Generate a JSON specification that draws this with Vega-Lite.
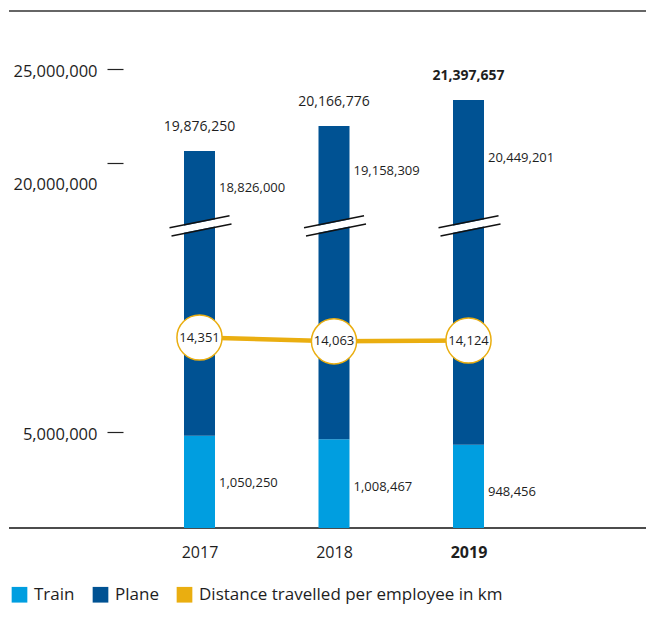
{
  "$schema": "https://vega.github.io/schema/vega-lite/v6.json",
  "width": 637,
  "height": 517,
  "autosize": {"type": "none"},
  "padding": {"left": 9, "top": 11, "right": 0, "bottom": 103},
  "config": {
    "view": {"stroke": null},
    "font": "Open Sans",
    "text": {"font": "Open Sans", "color": "#1e1e1e"},
    "axis": {"labelFont": "Open Sans", "labelColor": "#1e1e1e", "grid": false, "title": null},
    "scale": {"pointPadding": 0}
  },
  "datasets": {
    "segments": [
      {"year": "2017", "mode": "Train", "km": 1050250},
      {"year": "2017", "mode": "Plane", "km": 18826000},
      {"year": "2018", "mode": "Train", "km": 1008467},
      {"year": "2018", "mode": "Plane", "km": 19158309},
      {"year": "2019", "mode": "Train", "km": 948456},
      {"year": "2019", "mode": "Plane", "km": 20449201}
    ],
    "years": [
      {"year": "2017", "train": 1050250, "plane": 18826000, "total": 19876250, "perEmployee": 14351},
      {"year": "2018", "train": 1008467, "plane": 19158309, "total": 20166776, "perEmployee": 14063},
      {"year": "2019", "train": 948456, "plane": 20449201, "total": 21397657, "perEmployee": 14124}
    ]
  },
  "resolve": {"scale": {"y": "independent"}},
  "layer": [
    {
      "layer": [
        {
          "data": {"values": [{"edge": "top"}]},
          "mark": {"type": "rule", "color": "#333333", "strokeWidth": 1.5},
          "encoding": {
            "y": {
              "datum": 28080000,
              "type": "quantitative",
              "scale": {"type": "linear", "domain": [0, 5000000, 18826000, 19158309, 20000000, 20449201, 25000000, 28080000], "range": [517, 421, 176.7, 160, 152, 146.7, 58, 0], "nice": false, "zero": false},
              "axis": {
                "orient": "left",
                "offset": -114,
                "domain": false,
                "grid": false,
                "title": null,
                "values": [5000000, 20000000, 25000000],
                "labelExpr": "format(datum.value, ',')",
                "tickSize": 16,
                "tickColor": "#222222",
                "tickWidth": 1.2,
                "labelPadding": 10,
                "labelFontSize": 16.5,
                "labelBaseline": "middle",
                "labelOverlap": false,
                "labelFlush": false,
                "labelOffset": {"condition": {"test": "datum.value === 20000000", "value": 21.5}, "value": 2.5}
              }
            }
          }
        },
        {
          "data": {"values": [{"edge": "bottom"}]},
          "mark": {"type": "rule", "color": "#111111", "strokeWidth": 1.5},
          "encoding": {"y": {"datum": 0, "type": "quantitative"}}
        },
        {
          "data": {"name": "years"},
          "mark": {"type": "text", "align": "left", "baseline": "middle", "dx": 19.5, "fontSize": 13},
          "encoding": {
            "x": {"field": "year", "type": "ordinal", "title": null, "scale": {"type": "point", "range": [190.5, 459.5], "padding": 0}, "axis": {"orient": "bottom", "domain": false, "ticks": false, "labelPadding": 16, "labelFontSize": 16, "labelAngle": 0, "labelFontWeight": {"condition": {"test": "datum.value === '2019'", "value": "bold"}, "value": "normal"}}},
            "y": {"field": "plane", "type": "quantitative"},
            "text": {"field": "plane", "type": "quantitative", "format": ","}
          }
        }
      ]
    },
    {
      "layer": [
        {
          "data": {"name": "segments"},
          "mark": {"type": "bar", "size": 31},
          "encoding": {
            "x": {"field": "year", "type": "ordinal", "title": null, "scale": {"type": "point", "range": [190.5, 459.5], "padding": 0}, "axis": {"orient": "bottom", "domain": false, "ticks": false, "labelPadding": 16, "labelFontSize": 16, "labelAngle": 0, "labelFontWeight": {"condition": {"test": "datum.value === '2019'", "value": "bold"}, "value": "normal"}}},
            "y": {
              "field": "km",
              "type": "quantitative",
              "stack": "zero",
              "scale": {"type": "linear", "domain": [0, 1050250, 19876250, 20166776, 21397657, 25000000], "range": [517, 424.7, 140, 115, 89, 0], "nice": false, "zero": false},
              "axis": null
            },
            "color": {
              "field": "mode",
              "type": "nominal",
              "scale": {"domain": ["Train", "Plane", "Distance travelled per employee in km"], "range": ["#009ee0", "#005293", "#eaae10"]},
              "legend": {
                "title": null,
                "orient": "none",
                "legendX": 2,
                "legendY": 575,
                "direction": "horizontal",
                "symbolType": "square",
                "symbolSize": 246,
                "symbolStrokeWidth": 0,
                "labelFontSize": 17,
                "labelFont": "Open Sans",
                "labelColor": "#1e1e1e",
                "labelOffset": 6,
                "columnPadding": 17,
                "padding": 0,
                "labelLimit": 0
              }
            },
            "order": {"field": "mode", "sort": "descending"}
          }
        },
        {
          "data": {"name": "years"},
          "mark": {"type": "rule", "color": "white", "strokeWidth": 7, "xOffset": -29, "x2Offset": 31},
          "encoding": {
            "x": {"field": "year", "type": "ordinal", "title": null, "scale": {"type": "point", "range": [190.5, 459.5], "padding": 0}},
            "x2": {"field": "year"},
            "y": {"datum": 14530000, "type": "quantitative"},
            "y2": {"datum": 15320000}
          }
        },
        {
          "data": {"name": "years"},
          "mark": {"type": "rule", "color": "#111111", "strokeWidth": 1.5, "xOffset": -30, "x2Offset": 30},
          "encoding": {
            "x": {"field": "year", "type": "ordinal", "title": null, "scale": {"type": "point", "range": [190.5, 459.5], "padding": 0}},
            "x2": {"field": "year"},
            "y": {"datum": 14800000, "type": "quantitative"},
            "y2": {"datum": 15600000}
          }
        },
        {
          "data": {"name": "years"},
          "mark": {"type": "rule", "color": "#111111", "strokeWidth": 1.5, "xOffset": -28, "x2Offset": 32},
          "encoding": {
            "x": {"field": "year", "type": "ordinal", "title": null, "scale": {"type": "point", "range": [190.5, 459.5], "padding": 0}},
            "x2": {"field": "year"},
            "y": {"datum": 14260000, "type": "quantitative"},
            "y2": {"datum": 15050000}
          }
        },
        {
          "data": {"name": "years"},
          "transform": [{"filter": "datum.year !== '2019'"}],
          "mark": {"type": "text", "baseline": "middle", "dy": -24.5, "fontSize": 14},
          "encoding": {
            "x": {"field": "year", "type": "ordinal", "title": null, "scale": {"type": "point", "range": [190.5, 459.5], "padding": 0}},
            "y": {"field": "total", "type": "quantitative"},
            "text": {"field": "total", "type": "quantitative", "format": ","}
          }
        },
        {
          "data": {"name": "years"},
          "transform": [{"filter": "datum.year === '2019'"}],
          "mark": {"type": "text", "baseline": "middle", "dy": -24.5, "fontSize": 14, "fontWeight": "bold"},
          "encoding": {
            "x": {"field": "year", "type": "ordinal", "title": null, "scale": {"type": "point", "range": [190.5, 459.5], "padding": 0}},
            "y": {"field": "total", "type": "quantitative"},
            "text": {"field": "total", "type": "quantitative", "format": ","}
          }
        },
        {
          "data": {"name": "years"},
          "mark": {"type": "text", "align": "left", "baseline": "middle", "dx": 19.5, "dy": 47.5, "fontSize": 13},
          "encoding": {
            "x": {"field": "year", "type": "ordinal", "title": null, "scale": {"type": "point", "range": [190.5, 459.5], "padding": 0}},
            "y": {"field": "train", "type": "quantitative"},
            "text": {"field": "train", "type": "quantitative", "format": ","}
          }
        }
      ]
    },
    {
      "data": {"name": "years"},
      "encoding": {
        "x": {"field": "year", "type": "ordinal", "title": null, "scale": {"type": "point", "range": [190.5, 459.5], "padding": 0}},
        "y": {"field": "perEmployee", "type": "quantitative", "scale": {"domain": [0, 38950], "nice": false}, "axis": null}
      },
      "layer": [
        {"mark": {"type": "line", "color": "#eaae10", "strokeWidth": 4.5}},
        {"mark": {"type": "point", "filled": true, "fill": "white", "stroke": "#eaae10", "strokeWidth": 1.5, "size": 2040, "opacity": 1}},
        {
          "mark": {"type": "text", "baseline": "middle", "fontSize": 13},
          "encoding": {"text": {"field": "perEmployee", "type": "quantitative", "format": ","}}
        }
      ]
    }
  ]
}
